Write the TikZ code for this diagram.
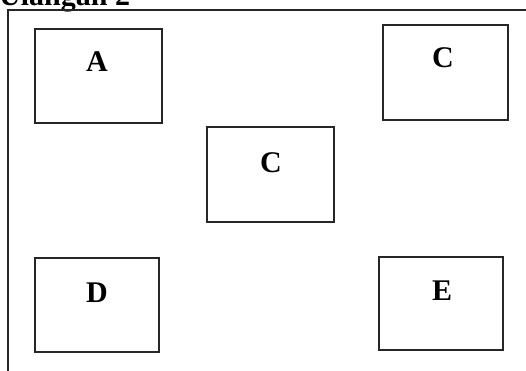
\documentclass[tikz,border=0pt]{standalone}
\usepackage{fontspec}
\setmainfont{Liberation Serif}
\begin{document}
\begin{tikzpicture}[x=1pt,y=-1pt,
  box/.style={draw=black!85,line width=1.5pt,rectangle,inner sep=0pt},
  lbl/.style={anchor=base,font=\fontsize{30}{30}\selectfont\bfseries,inner sep=0pt}]
\useasboundingbox (0,0) rectangle (526,371);
\clip (0,0) rectangle (526,371);
\fill[white] (0,0) rectangle (526,371);
% title (cut off at top)
\node[anchor=base west,inner sep=0pt,font=\fontsize{30}{30}\selectfont\bfseries] (title) at (-1,6) {Ulangan 2};
% outer frame
\draw[line width=1.6pt,black!85] (530,10) -- (8,10) -- (8,380);
% boxes
\node[box,minimum width=127pt,minimum height=94pt] (bA) at (98.5,76) {};
\node[box,minimum width=125pt,minimum height=95pt] (bC1) at (445.5,72.5) {};
\node[box,minimum width=127pt,minimum height=95pt] (bC2) at (270.5,174.5) {};
\node[box,minimum width=124pt,minimum height=94pt] (bD) at (97,305) {};
\node[box,minimum width=124pt,minimum height=93pt] (bE) at (441,303.5) {};
% labels
\node[lbl] (lA) at (97,72) {A};
\node[lbl] (lC1) at (443,68) {C};
\node[lbl] (lC2) at (271,172) {C};
\node[lbl] (lD) at (97,302) {D};
\node[lbl] (lE) at (442,300) {E};
\end{tikzpicture}
\end{document}
